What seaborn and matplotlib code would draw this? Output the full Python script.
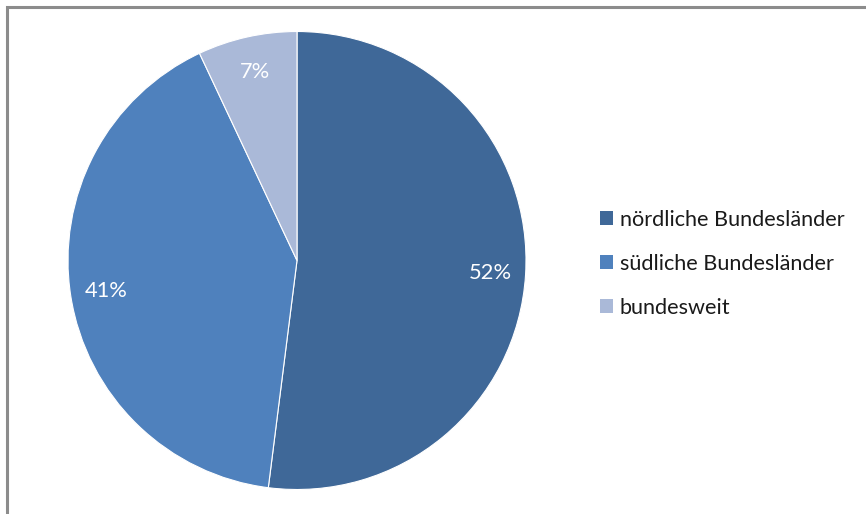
import matplotlib
matplotlib.use("Agg")
import matplotlib.pyplot as plt
import seaborn as sns
from matplotlib.patches import Rectangle

categories = ["nördliche Bundesländer", "südliche Bundesländer", "bundesweit"]
shares = [52, 41, 7]
colors = ["#3F6898", "#4F81BD", "#AAB9D8"]

sns.set_theme(style="white")
plt.rcParams["font.family"] = ["Lato", "DejaVu Sans"]

W, H = 866, 514
fig = plt.figure(figsize=(W / 100, H / 100), dpi=100)
ax = fig.add_axes([0, 0, 1, 1])

# chart area frame (top and left edges visible)
ax.plot([6.5, 6.5, W + 5], [-5, H - 6.5, H - 6.5], color="#8C8C8C", lw=2.2,
        solid_capstyle="butt", solid_joinstyle="miter", zorder=0)

wedges, _, autotexts = ax.pie(
    shares, colors=colors, startangle=90, counterclock=False,
    center=(297, H - 260.5), radius=229, frame=True,
    autopct=lambda p: f"{p:.0f}%", pctdistance=0.845,
    wedgeprops=dict(edgecolor="white", linewidth=0.8),
    textprops=dict(color="white", fontsize=14.5),
)
ax.set_xlim(0, W)
ax.set_ylim(0, H)
ax.set_aspect("equal")
ax.axis("off")

handles = [Rectangle((0, 0), 1, 1, facecolor=c, edgecolor="none") for c in colors]


def make_legend(size, spacing):
    lg = ax.legend(handles, categories, loc="upper left",
                   bbox_to_anchor=(589 / W, 1 - 199 / H), bbox_transform=fig.transFigure,
                   frameon=False, fontsize=size, handlelength=0.62, handleheight=0.62,
                   handletextpad=0.3, labelspacing=spacing, borderpad=0)
    for t in lg.get_texts():
        t.set_color("#1A1A1A")
    return lg


# size the legend text so the longest entry spans about 226 px
renderer = fig.canvas.get_renderer()
size = 14.1
leg = make_legend(size, 1.1)
w = leg.get_texts()[0].get_window_extent(renderer).width
size = size * 226 / w
leg = make_legend(size, 1.1)

# percent labels sized so "52%" spans about 43 px
pw = autotexts[0].get_window_extent(renderer).width
for t in autotexts:
    t.set_fontsize(14.5 * 43 / pw)

fig.savefig("out.png", dpi=100)
